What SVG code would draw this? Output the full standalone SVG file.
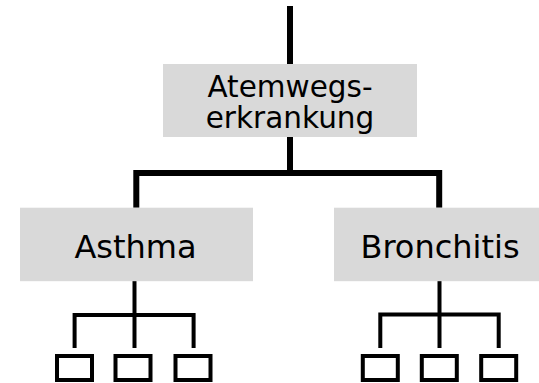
<svg xmlns="http://www.w3.org/2000/svg" width="539" height="383" viewBox="0 0 539 383">
  <style>
    .box { fill: #d9d9d9; }
    .lbl { font-family: "DejaVu Sans", Verdana, sans-serif; fill: #000; text-anchor: middle; }
    .thick { fill: none; stroke: #000; stroke-width: 6; stroke-linejoin: miter; stroke-linecap: butt; }
    .thin { fill: none; stroke: #000; stroke-width: 4; stroke-linejoin: miter; stroke-linecap: butt; }
    .leaf { fill: #fff; stroke: #000; stroke-width: 4; }
  </style>

  <!-- connectors -->
  <g id="connectors">
    <path class="thick" d="M290,6 V64"/>
    <path class="thick" d="M290,137 V173"/>
    <path class="thick" d="M136.3,207.7 V173 H439.2 V207.7"/>
    <path class="thin" d="M134.5,281 V348"/>
    <path class="thin" d="M74.6,348 V315 H193.6 V348"/>
    <path class="thin" d="M439.5,281 V348"/>
    <path class="thin" d="M380.3,348 V314.5 H498.7 V348"/>
  </g>

  <!-- top node -->
  <g id="node-atemwegserkrankung">
    <rect class="box" x="163" y="64" width="254" height="73"/>
    <text class="lbl" x="290" y="97.3" font-size="29.5">Atemwegs-</text>
    <text class="lbl" x="290" y="128.3" font-size="29.5">erkrankung</text>
  </g>

  <!-- second level -->
  <g id="node-asthma">
    <rect class="box" x="20" y="207.7" width="233" height="73.5"/>
    <text class="lbl" x="135.5" y="257.7" font-size="32">Asthma</text>
  </g>
  <g id="node-bronchitis">
    <rect class="box" x="334" y="207.7" width="211" height="73.5"/>
    <text class="lbl" x="440" y="257.7" font-size="32">Bronchitis</text>
  </g>

  <!-- leaves -->
  <g id="leaf-asthma-1"><rect class="leaf" x="57" y="356" width="35" height="24"/></g>
  <g id="leaf-asthma-2"><rect class="leaf" x="115.5" y="356" width="35" height="24"/></g>
  <g id="leaf-asthma-3"><rect class="leaf" x="175.5" y="356" width="35" height="24"/></g>
  <g id="leaf-bronchitis-1"><rect class="leaf" x="362.8" y="356" width="35" height="24"/></g>
  <g id="leaf-bronchitis-2"><rect class="leaf" x="421.8" y="356" width="35" height="24"/></g>
  <g id="leaf-bronchitis-3"><rect class="leaf" x="481.2" y="356" width="35" height="24"/></g>
</svg>
